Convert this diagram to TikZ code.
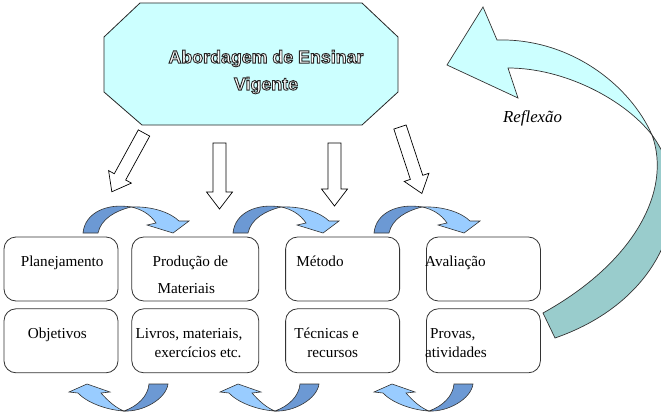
\documentclass[tikz,border=0pt]{standalone}
\usepackage{fontspec}
\setmainfont{Liberation Serif}
\newfontfamily\arialfont{Liberation Sans}
\usetikzlibrary{positioning}

\definecolor{cianoclaro}{RGB}{204,255,255}
\definecolor{verdeagua}{RGB}{153,204,204}
\definecolor{azulesc}{RGB}{108,153,212}
\definecolor{azulcla}{RGB}{153,204,255}

% letras vazadas (preenchidas de branco, contorno preto)
\newcommand{\vazado}[1]{{\color{white}\special{pdf:literal direct 0.15 0.15 0.15 RG 2 Tr 0.9 w}#1\special{pdf:literal direct 0 Tr}}}

\begin{document}
\begin{tikzpicture}[
		x=1pt, y=-1pt,
		font=\fontsize{15.2}{19}\selectfont,
		% --- ESTILOS DOS BLOCOS ---
		bloco/.style = {draw=black!80, rectangle, rounded corners=12pt, line width=0.8pt, minimum width=114pt, minimum height=64pt, inner sep=0pt},
		texto/.style = {anchor=base west, inner sep=0pt},
		octogono/.style = {draw=black!85, fill=cianoclaro, line width=0.8pt},
		% --- ESTILOS DAS SETAS ---
		seta_branca/.style = {draw=black, fill=white, line width=0.7pt},
		curva_esc/.style = {draw=black!80, fill=azulesc, line width=0.6pt},
		curva_cla/.style = {draw=black!80, fill=azulcla, line width=0.6pt},
		reflexo_cla/.style = {draw=black!80, fill=cianoclaro, line width=0.7pt},
		reflexo_esc/.style = {draw=black!80, fill=verdeagua, line width=0.7pt}
		]
		\useasboundingbox (0,0) rectangle (661,420);
		
		% =========================================================================
		% 1. BLOCO SUPERIOR
		% =========================================================================
		\draw [octogono] (140,3) -- (362,3) -- (398,37) -- (398,92) -- (362,125) -- (142,125) -- (104,92) -- (104,37) -- cycle;
		\node [font=\arialfont\bfseries\fontsize{17.8}{27}\selectfont, align=center] (titulo) at (266,72)
		{\vazado{Abordagem de Ensinar}\\\vazado{Vigente}};
		
		% =========================================================================
		% 2. CAIXAS (duas linhas)
		% =========================================================================
		\node [bloco] (pla) at (61,269) {};
		\node [bloco, minimum width=127pt] (pro) [right=13pt of pla] {};
		\node [bloco] (met) [right=26pt of pro] {};
		\node [bloco] (ava) [right=26pt of met] {};
		
		\node [bloco] (obj) [below=7pt of pla] {};
		\node [bloco, minimum width=127pt] (liv) [below=7pt of pro] {};
		\node [bloco] (tec) [below=7pt of met] {};
		\node [bloco] (prv) [below=7pt of ava] {};
		
		% textos das caixas
		\node [texto] (t_pla) at ([shift={(17,30)}]pla.north west) {Planejamento};
		\node [texto] (t_pro) at ([shift={(21,30)}]pro.north west) {Produção de};
		\node [texto] (t_mat) at ([shift={(26,57)}]pro.north west) {Materiais};
		\node [texto] (t_met) at ([shift={(11,30)}]met.north west) {Método};
		\node [texto] (t_ava) at ([shift={(-1,30)}]ava.north west) {Avaliação};
		
		\node [texto] (t_obj) at ([shift={(24,30)}]obj.north west) {Objetivos};
		\node [texto] (t_liv) at ([shift={(4,30)}]liv.north west) {Livros, materiais,};
		\node [texto] (t_exe) at ([shift={(23,49)}]liv.north west) {exercícios etc.};
		\node [texto] (t_tec) at ([shift={(9,30)}]tec.north west) {Técnicas e};
		\node [texto] (t_rec) at ([shift={(22,49)}]tec.north west) {recursos};
		\node [texto] (t_prv) at ([shift={(4,30)}]prv.north west) {Provas,};
		\node [texto] (t_ati) at ([shift={(-1,49)}]prv.north west) {atividades};
		
		\node [texto, font=\itshape\fontsize{16.8}{20}\selectfont] (reflexao) at (503,122) {Reflexão};
		
		% =========================================================================
		% 3. SETAS BRANCAS (do bloco superior para as caixas)
		% =========================================================================
		\foreach \px/\py/\ang/\len in {144/133/241.3/67, 219.5/143/270/66, 334.5/143/270/63, 400/127/288.2/70}
		\draw [seta_branca, shift={(\px,\py)}, rotate=\ang] (0,-6.5) -- ({\len-17},-6.5) -- ({\len-17},-13) -- (\len,0)
		-- ({\len-17},13) -- ({\len-17},6.5) -- (0,6.5) -- cycle;
		
		% =========================================================================
		% 4. SETAS CURVAS AZUIS
		% =========================================================================
		% em cima, para a direita
		\foreach \px in {83,233,374} {
			\begin{scope}[shift={(\px,233)}]
				\draw [curva_esc] (0,0) .. controls (2,-21) and (25,-30) .. (48,-26)
				.. controls (32,-22) and (18,-14) .. (15,0) -- cycle;
				\draw [curva_cla] (48,-26) .. controls (70,-27) and (88,-20) .. (96,-12) -- (106,-12) -- (90,0)
				-- (64,-8) -- (73,-10) .. controls (67,-19) and (58,-24) .. (48,-26) -- cycle;
			\end{scope}
		}
		% em baixo, para a esquerda
		\foreach \px in {168,319,473} {
			\begin{scope}[shift={(\px,384)}]
				\draw [curva_esc] (-44,27) .. controls (-25,28) and (-2,15) .. (0,0) -- (-19,0)
				.. controls (-20,12) and (-30,22) .. (-44,27) -- cycle;
				\draw [curva_cla] (-44,27) .. controls (-62,26) and (-82,18) .. (-90,9) -- (-99,8) -- (-81,0)
				-- (-58,8) -- (-67,9) .. controls (-60,17) and (-52,24) .. (-44,27) -- cycle;
			\end{scope}
		}
		
		% =========================================================================
		% 5. SETA GRANDE (reflexão)
		% =========================================================================
		\begin{scope}
			\clip (0,0) rectangle (661,420);
			\draw [reflexo_esc] (555,338) .. controls (665,300) and (700,200) .. (652,135)
			.. controls (672,190) and (635,262) .. (543,313) -- cycle;
			\draw [reflexo_cla] (447,65) -- (483,7) -- (497,40) .. controls (570,38) and (630,85) .. (652,135)
			.. controls (625,100) and (565,68) .. (508,68) -- (518,98) -- cycle;
		\end{scope}
		
	\end{tikzpicture}
\end{document}
